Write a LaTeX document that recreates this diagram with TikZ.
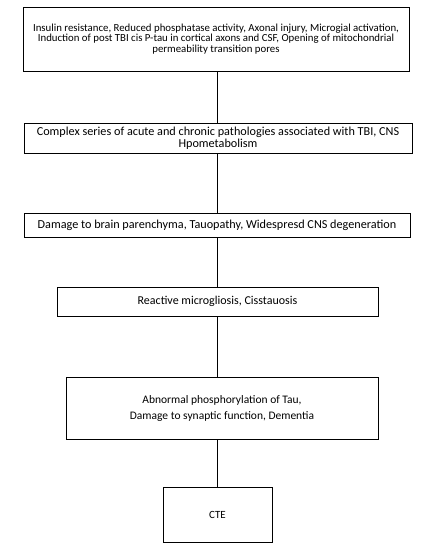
\documentclass[tikz,border=0pt]{standalone}
\usepackage{fontspec}
\setmainfont{Carlito}
\tikzset{
	stage/.style={draw, line width=1pt, align=center, inner sep=1pt},
	link/.style={line width=1.6pt}
}
\begin{document}
\begin{tikzpicture}[x=1pt,y=-1pt]
		\useasboundingbox (0,0) rectangle (436,550);

		\node[stage, minimum width=386pt, minimum height=64pt, font=\fontsize{10.8}{10.5}\selectfont] (onset) at (216,39)
		{Insulin resistance, Reduced phosphatase activity, Axonal injury, Microgial activation,\\
		Induction of post TBI cis P-tau in cortical axons and CSF, Opening of mitochondrial\\
		permeability transition pores};
		\node[stage, minimum width=388pt, minimum height=30pt, font=\fontsize{12.2}{12}\selectfont] (complex) at (218,138)
		{Complex series of acute and chronic pathologies associated with TBI, CNS\\
		Hpometabolism};
		\node[stage, minimum width=386pt, minimum height=24pt, font=\fontsize{12.2}{12}\selectfont] (damage) at (217,225)
		{Damage to brain parenchyma, Tauopathy, Widespresd CNS degeneration};
		\node[stage, minimum width=321pt, minimum height=29pt, font=\fontsize{12}{12}\selectfont] (react) at (217.5,301.5)
		{Reactive microgliosis, Cisstauosis};
		\node[stage, minimum width=312pt, minimum height=62pt, font=\fontsize{11.5}{16}\selectfont] (tau) at (222,408)
		{Abnormal phosphorylation of Tau,\\
		Damage to synaptic function, Dementia};
		\node[stage, minimum width=109pt, minimum height=55pt, font=\fontsize{11}{12}\selectfont] (cte) at (217.5,514.5)
		{CTE};

		\draw[link] (onset.south -| cte) -- (complex.north -| cte);
		\draw[link] (complex.south -| cte) -- (damage.north -| cte);
		\draw[link] (damage.south -| cte) -- (react.north -| cte);
		\draw[link] (react.south -| cte) -- (tau.north -| cte);
		\draw[link] (tau.south -| cte) -- (cte.north);
\end{tikzpicture}
\end{document}
